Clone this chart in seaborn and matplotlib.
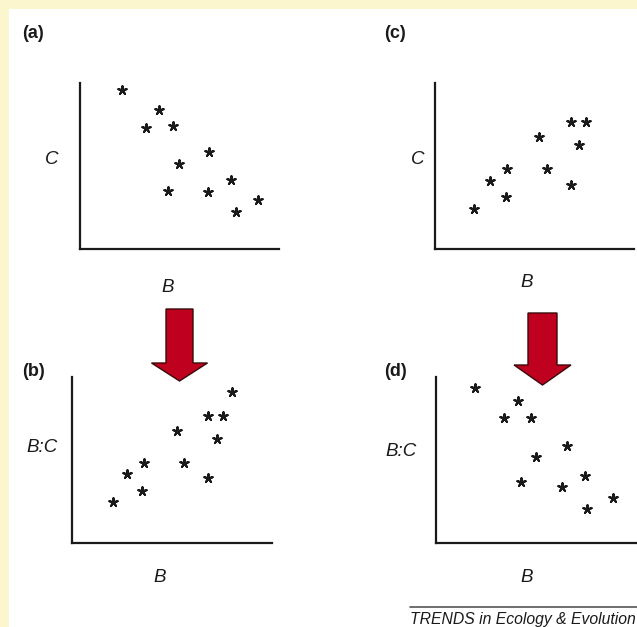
import matplotlib
matplotlib.use('Agg')
import matplotlib.pyplot as plt
from matplotlib.patches import Polygon, Rectangle
import seaborn as sns
import pandas as pd

# Data (axis units 0-10, no ticks shown)
a_B = [2.11, 3.97, 3.32, 4.67, 4.97, 6.48, 4.42, 6.43, 7.59, 8.94, 7.84]
a_C = [9.58, 8.37, 7.29, 7.41, 5.12, 5.84, 3.49, 3.43, 4.16, 2.95, 2.23]

b_B = [2.05, 2.75, 3.60, 3.50, 5.25, 5.60, 6.80, 6.80, 7.55, 7.25, 8.00]
b_BC = [2.47, 4.16, 4.82, 3.13, 6.75, 4.82, 3.92, 7.65, 7.65, 6.27, 9.10]

c_B = [1.96, 2.76, 3.62, 3.57, 5.23, 5.63, 6.84, 6.84, 7.59, 7.24]
c_C = [2.41, 4.10, 4.82, 3.13, 6.75, 4.82, 3.86, 7.65, 7.65, 6.27]

d_B = [1.95, 4.10, 3.40, 4.75, 6.55, 5.00, 4.25, 6.30, 7.45, 8.85, 7.55]
d_BC = [9.34, 8.55, 7.53, 7.53, 5.84, 5.18, 3.67, 3.37, 4.04, 2.71, 2.05]

panel_tags = ['(a)', '(b)', '(c)', '(d)']
y_labels = ['C', 'B:C', 'C', 'B:C']
x_label = 'B'
credit = 'TRENDS in Ecology & Evolution'

W, H = 637, 627
CREAM = '#fcf6cf'
RED = '#c0001f'
INK = '#1a1a1a'

sns.set_style('white')
plt.rcParams['font.family'] = ['Liberation Sans', 'DejaVu Sans']

fig = plt.figure(figsize=(W / 100, H / 100), dpi=100)
fig.patch.set_facecolor(CREAM)


def fx(px):
    return px / W


def fy(py):
    return 1 - py / H


# white inner panel
fig.add_artist(Rectangle((fx(9), 0), 1 - fx(9), fy(9), transform=fig.transFigure,
                         facecolor='white', edgecolor='none', zorder=0))

# axes boxes in pixels: left, top, right, bottom
boxes = [(80, 83, 279, 249), (72, 377, 272, 543), (435, 83, 634, 249), (436, 377, 636, 543)]
data = [(a_B, a_C), (b_B, b_BC), (c_B, c_C), (d_B, d_BC)]

for (l, t, r, b), (xs, ys) in zip(boxes, data):
    ax = fig.add_axes([fx(l), fy(b), fx(r) - fx(l), fy(t) - fy(b)])
    ax.set_facecolor('none')
    df = pd.DataFrame({'B': xs, 'Y': ys})
    sns.scatterplot(data=df, x='B', y='Y', ax=ax, marker=(5, 2, 0), s=38,
                    color=INK, linewidth=1.5, legend=False)
    ax.set_xlim(0, 10)
    ax.set_ylim(0, 10)
    ax.set_xticks([])
    ax.set_yticks([])
    ax.set_xlabel('')
    ax.set_ylabel('')
    sns.despine(ax=ax)
    for s in ['left', 'bottom']:
        ax.spines[s].set_linewidth(1.6)
        ax.spines[s].set_color(INK)

# panel tags
tag_pos = [(22, 33), (22, 372), (384, 33), (384, 372)]
for tag, (px, py) in zip(panel_tags, tag_pos):
    fig.text(fx(px), fy(py), tag, fontsize=13, fontweight='bold', color=INK,
             ha='left', va='center')

# y labels
ylab_pos = [(52, 160), (42, 447), (418, 160), (401, 452)]
for lab, (px, py) in zip(y_labels, ylab_pos):
    fig.text(fx(px), fy(py), lab, fontsize=13.5, color=INK, ha='center', va='center',
             fontstyle='italic')

# x labels
xlab_pos = [(168, 287), (160, 577), (527, 283), (527, 577)]
for (px, py) in xlab_pos:
    fig.text(fx(px), fy(py), x_label, fontsize=13.5, color=INK, ha='center', va='center',
             fontstyle='italic')


# red down arrows
def down_arrow(cx, top, base, tip, shaft_w, head_w):
    pts = [(cx - shaft_w / 2, top), (cx + shaft_w / 2, top), (cx + shaft_w / 2, base),
           (cx + head_w / 2, base), (cx, tip), (cx - head_w / 2, base),
           (cx - shaft_w / 2, base)]
    poly = Polygon([(fx(x), fy(y)) for x, y in pts], closed=True, transform=fig.transFigure,
                   facecolor=RED, edgecolor='#3a0a0a', linewidth=1.0, zorder=5)
    fig.add_artist(poly)


down_arrow(179.5, 309, 363, 381, 27, 56)
down_arrow(542.5, 313, 365, 385, 29, 57)

# credit line
fig.add_artist(plt.Line2D([fx(410), fx(637)], [fy(607), fy(607)], transform=fig.transFigure,
                          color='#555555', linewidth=1.2))
fig.text(fx(636), fy(619.5), credit, fontsize=11.3, fontstyle='italic', color=INK,
         ha='right', va='center')

fig.savefig('out.png', dpi=100, facecolor=fig.get_facecolor())
